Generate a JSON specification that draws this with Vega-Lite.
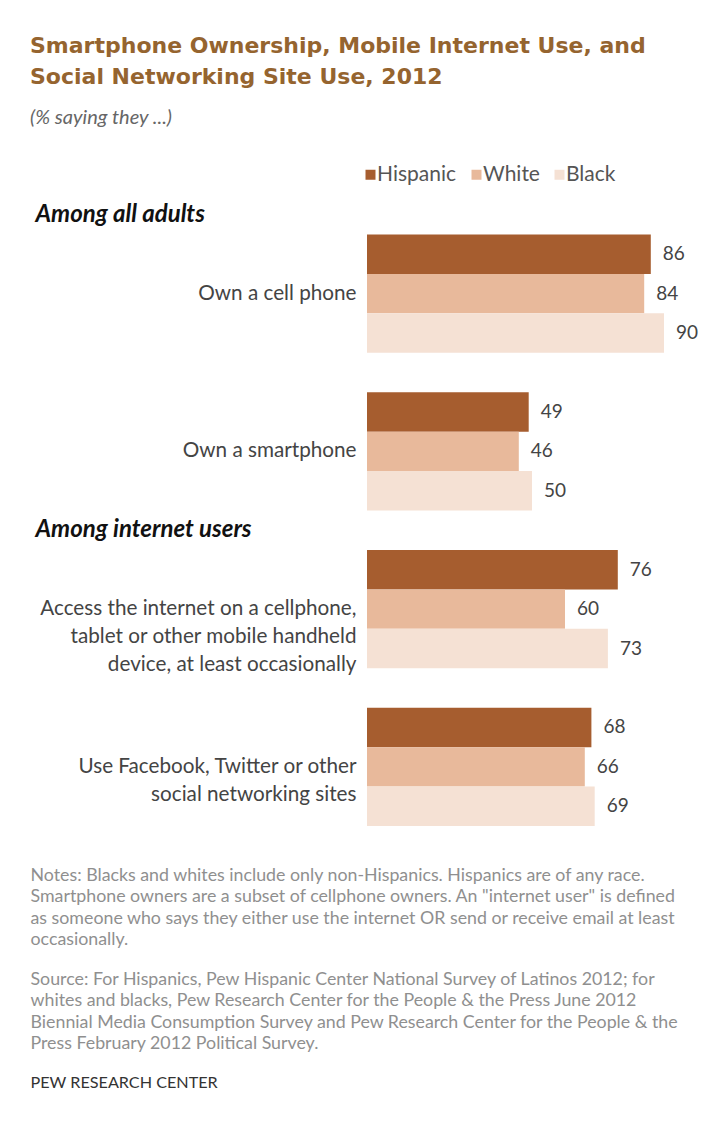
{
  "$schema": "https://vega.github.io/schema/vega-lite/v6.json",
  "width": 330,
  "height": 631,
  "autosize": {"type": "none"},
  "padding": {"left": 367, "top": 195, "right": 5, "bottom": 310},
  "background": "white",
  "title": {
    "text": ["Smartphone Ownership, Mobile Internet Use, and", "Social Networking Site Use, 2012"],
    "subtitle": "(% saying they ...)",
    "anchor": "start",
    "frame": "bounds",
    "orient": "top",
    "offset": 35,
    "font": "DejaVu Sans",
    "fontSize": 22,
    "fontWeight": "bold",
    "color": "#95642f",
    "lineHeight": 31,
    "subtitleFont": "Lato",
    "subtitleFontSize": 20,
    "subtitleFontStyle": "italic",
    "subtitleColor": "#666666",
    "subtitlePadding": 19
  },
  "data": {
    "values": [
      {"item": "Own a cell phone", "race": "Hispanic", "value": 86},
      {"item": "Own a cell phone", "race": "White", "value": 84},
      {"item": "Own a cell phone", "race": "Black", "value": 90},
      {"item": "Own a smartphone", "race": "Hispanic", "value": 49},
      {"item": "Own a smartphone", "race": "White", "value": 46},
      {"item": "Own a smartphone", "race": "Black", "value": 50},
      {"item": "Access the internet on a cellphone,\ntablet or other mobile handheld\ndevice, at least occasionally", "race": "Hispanic", "value": 76},
      {"item": "Access the internet on a cellphone,\ntablet or other mobile handheld\ndevice, at least occasionally", "race": "White", "value": 60},
      {"item": "Access the internet on a cellphone,\ntablet or other mobile handheld\ndevice, at least occasionally", "race": "Black", "value": 73},
      {"item": "Use Facebook, Twitter or other\nsocial networking sites", "race": "Hispanic", "value": 68},
      {"item": "Use Facebook, Twitter or other\nsocial networking sites", "race": "White", "value": 66},
      {"item": "Use Facebook, Twitter or other\nsocial networking sites", "race": "Black", "value": 69}
    ]
  },
  "layer": [
    {
      "mark": {"type": "bar"},
      "encoding": {
        "y": {
          "field": "item",
          "type": "nominal",
          "sort": null,
          "scale": {
            "domain": [
              "Own a cell phone",
              "Own a smartphone",
              "Access the internet on a cellphone,\ntablet or other mobile handheld\ndevice, at least occasionally",
              "Use Facebook, Twitter or other\nsocial networking sites"
            ],
            "paddingInner": 0.25,
            "paddingOuter": 0.125,
            "align": 1
          },
          "axis": {
            "orient": "left",
            "title": "PEW RESEARCH CENTER",
            "titleAngle": 0,
            "titleAlign": "left",
            "titleBaseline": "top",
            "titleX": -337,
            "titleY": 879,
            "titleFont": "Lato",
            "titleFontSize": 16.2,
            "titleFontWeight": "normal",
            "titleColor": "#333333",
            "ticks": false,
            "domain": false,
            "grid": false,
            "labelExpr": "split(datum.label, '\\n')",
            "labelFont": "Lato",
            "labelFontSize": 20.7,
            "labelColor": "#444444",
            "labelLineHeight": 28,
            "labelPadding": 11,
            "labelLimit": 400,
            "labelOverlap": false
          }
        },
        "yOffset": {
          "field": "race",
          "type": "nominal",
          "sort": null,
          "scale": {"domain": ["Hispanic", "White", "Black"], "paddingInner": 0, "paddingOuter": 0}
        },
        "x": {
          "field": "value",
          "type": "quantitative",
          "scale": {"domain": [0, 100], "nice": false, "zero": true},
          "axis": {
            "orient": "bottom",
            "ticks": false,
            "domain": false,
            "grid": false,
            "labels": false,
            "title": [
              "Notes: Blacks and whites include only non-Hispanics. Hispanics are of any race.",
              "Smartphone owners are a subset of cellphone owners.  An \"internet user\" is defined",
              "as someone who says they either use the internet OR send or receive email at least",
              "occasionally."
            ],
            "titleAnchor": "start",
            "titleAlign": "left",
            "titleBaseline": "top",
            "titleX": -337,
            "titleY": 40,
            "titleFont": "Lato",
            "titleFontSize": 17.8,
            "titleFontWeight": "normal",
            "titleColor": "#8f8f8f",
            "titleLineHeight": 21.5
          }
        },
        "color": {
          "field": "race",
          "type": "nominal",
          "sort": null,
          "scale": {"domain": ["Hispanic", "White", "Black"], "range": ["#a65d2f", "#e8b99b", "#f5e1d4"]},
          "legend": {
            "orient": "none",
            "legendX": -7,
            "legendY": -31,
            "direction": "horizontal",
            "title": null,
            "padding": 0,
            "symbolType": "square",
            "symbolSize": 100,
            "symbolStrokeWidth": 0,
            "labelFont": "Lato",
            "labelFontSize": 21,
            "labelColor": "#555555",
            "labelOffset": -4,
            "columnPadding": 9
          }
        }
      }
    },
    {
      "mark": {"type": "text", "align": "left", "baseline": "middle", "dx": 12, "font": "Lato", "fontSize": 19, "color": "#444444"},
      "encoding": {
        "y": {
          "field": "item",
          "type": "nominal",
          "sort": null,
          "axis": {
            "orient": "left",
            "title": null,
            "ticks": false,
            "domain": false,
            "grid": false,
            "labelOffset": -79,
            "labelExpr": "indexof(datum.label, 'Own a cell') == 0 ? 'Among all adults' : (indexof(datum.label, 'Access') == 0 ? 'Among internet users' : '')",
            "labelAlign": "left",
            "labelPadding": 332,
            "labelFont": "Lato",
            "labelFontSize": 24,
            "labelFontWeight": "bold",
            "labelFontStyle": "italic",
            "labelColor": "#111111",
            "labelLimit": 400,
            "labelOverlap": false
          }
        },
        "yOffset": {"field": "race", "type": "nominal", "sort": null},
        "x": {
          "field": "value",
          "type": "quantitative",
          "axis": {
            "orient": "bottom",
            "ticks": false,
            "domain": false,
            "grid": false,
            "labels": false,
            "title": [
              "Source: For Hispanics, Pew Hispanic Center National Survey of Latinos 2012; for",
              "whites and blacks, Pew Research Center for the People & the Press June 2012",
              "Biennial Media Consumption Survey and Pew Research Center for the People & the",
              "Press February 2012 Political Survey."
            ],
            "titleAnchor": "start",
            "titleAlign": "left",
            "titleBaseline": "top",
            "titleX": -337,
            "titleY": 144,
            "titleFont": "Lato",
            "titleFontSize": 17.8,
            "titleFontWeight": "normal",
            "titleColor": "#8f8f8f",
            "titleLineHeight": 21.5
          }
        },
        "text": {"field": "value", "type": "quantitative"}
      }
    }
  ],
  "resolve": {"axis": {"x": "independent", "y": "independent"}},
  "config": {
    "view": {"stroke": null},
    "bar": {"binSpacing": 0}
  }
}
